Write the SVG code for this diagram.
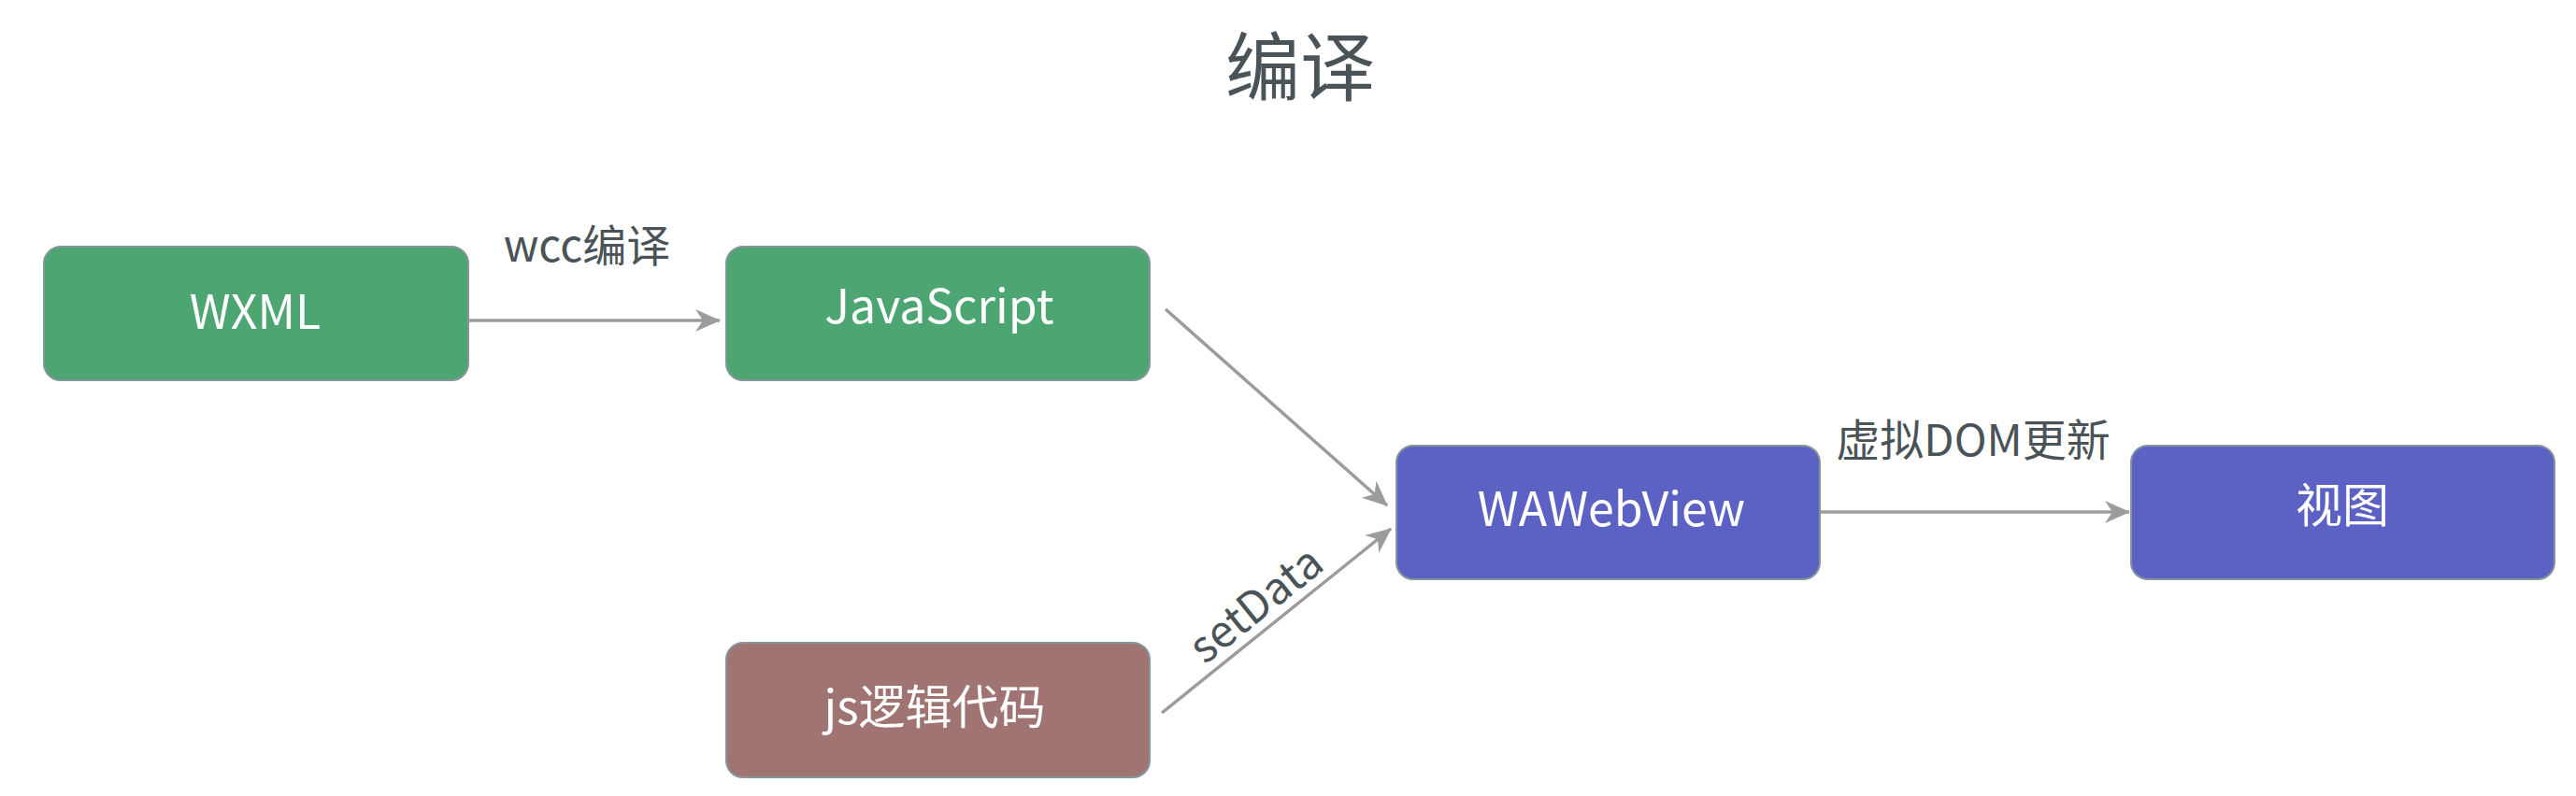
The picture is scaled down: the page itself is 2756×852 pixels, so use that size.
<svg xmlns="http://www.w3.org/2000/svg" width="2756" height="852" viewBox="0 0 2756 852">
<style>
.box{stroke:#84969c;stroke-width:2}
.g{fill:#4da572}
.p{fill:#5c62c3}
.r{fill:#a07473}
.nt{font-family:"Noto Sans CJK SC","Noto Sans",sans-serif;font-size:50px;fill:#ffffff;text-anchor:middle}
.lb{font-family:"Noto Sans CJK SC","Noto Sans",sans-serif;font-size:47px;fill:#4a5357}
.edge{stroke:#9c9c9c;stroke-width:3.5;fill:none}
</style>
<defs>
<marker id="arr" markerUnits="userSpaceOnUse" markerWidth="28" markerHeight="26" viewBox="0 0 28 26" refX="26" refY="13" orient="auto">
<path d="M0,1 L27,13 L0,25 L8,13 Z" fill="#9c9c9c"/>
</marker>
</defs>
<rect width="2756" height="852" fill="#ffffff"/>
<text x="1391" y="101" font-family="'Noto Sans CJK SC','Noto Sans',sans-serif" font-size="80" fill="#4a5357" text-anchor="middle">编译</text>
<g id="connectors">
<path class="edge" d="M501,343 L770,343" marker-end="url(#arr)"/>
<path class="edge" d="M1247,331 L1484,541" marker-end="url(#arr)"/>
<path class="edge" d="M1243,763 L1488,566" marker-end="url(#arr)"/>
<path class="edge" d="M1947,548 L2278,548" marker-end="url(#arr)"/>
<text class="lb" x="628" y="280" text-anchor="middle">wcc编译</text>
<text class="lb" x="2111" y="488" text-anchor="middle">虚拟DOM更新</text>
<text class="lb" transform="translate(1354,660) rotate(-38.7)" text-anchor="middle" font-size="49">setData</text>
</g>
<g id="wxml">
<rect class="box g" x="47" y="264" width="454" height="143" rx="18"/>
<text class="nt" x="273" y="352">WXML</text>
</g>
<g id="javascript">
<rect class="box g" x="777" y="264" width="453" height="143" rx="18"/>
<text class="nt" x="1005" y="346">JavaScript</text>
</g>
<g id="jslogic">
<rect class="box r" x="777" y="688" width="453" height="144" rx="18"/>
<text class="nt" x="1000" y="775">js逻辑代码</text>
</g>
<g id="wawebview">
<rect class="box p" x="1494" y="477" width="453" height="143" rx="18"/>
<text class="nt" x="1724" y="563">WAWebView</text>
</g>
<g id="view">
<rect class="box p" x="2280" y="477" width="453" height="143" rx="18"/>
<text class="nt" x="2506" y="559">视图</text>
</g>
</svg>
